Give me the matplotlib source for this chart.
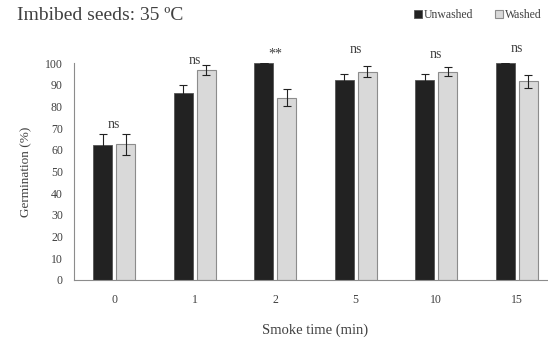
import matplotlib
matplotlib.use("Agg")
import matplotlib.pyplot as plt
import numpy as np

plt.rcParams['font.family'] = ['Liberation Serif', 'DejaVu Serif']

categories = ['0', '1', '2', '5', '10', '15']
unwashed = [62, 86, 100, 92, 92, 100]
unwashed_err = [5.5, 4, 0, 3, 3, 0]
washed = [62.5, 97, 84, 96, 96, 91.5]
washed_err = [5, 2.3, 4, 2.5, 2, 3]
sig_labels = ['ns', 'ns', '**', 'ns', 'ns', 'ns']
sig_y = [71.5, 101, 104, 106, 104, 106.5]
yticks = [0, 10, 20, 30, 40, 50, 60, 70, 80, 90, 100]

txt = '#404040'
fig = plt.figure(figsize=(5.48, 3.41), dpi=100)
ax = fig.add_axes([74/548, 61/341, 483/548, 217/341])

x = np.arange(len(categories))
w = 0.24
off = 0.142
ax.bar(x - off, unwashed, w, color='#222222', edgecolor='#555555', linewidth=0.6,
       yerr=unwashed_err, error_kw=dict(ecolor='#222222', elinewidth=0.8, capsize=3, capthick=0.8),
       label='Unwashed', zorder=2)
ax.bar(x + off, washed, w, color='#d9d9d9', edgecolor='#8c8c8c', linewidth=0.8,
       yerr=washed_err, error_kw=dict(ecolor='#222222', elinewidth=0.8, capsize=3, capthick=0.8),
       label='Washed', zorder=2)

for xi, lab, yy in zip(x, sig_labels, sig_y):
    ax.text(xi, yy, lab, ha='center', va='center', fontsize=10, color=txt, clip_on=False)

ax.set_xlim(-0.5, len(categories) - 0.5)
ax.set_ylim(0, 100)
ax.set_yticks(yticks)
ax.set_xticks(x)
ax.set_xticklabels(categories)
ax.tick_params(axis='both', length=0, labelsize=8.5, colors=txt)
ax.tick_params(axis='x', pad=10)
ax.tick_params(axis='y', pad=8)
for s in ['top', 'right']:
    ax.spines[s].set_visible(False)
for s in ['left', 'bottom']:
    ax.spines[s].set_color('#8c8c8c')
    ax.spines[s].set_linewidth(0.8)

ax.set_xlabel('Smoke time (min)', fontsize=10.5, color=txt, labelpad=13)
ax.set_ylabel('Germination (%)', fontsize=9.5, color=txt, labelpad=9)

fig.text(17/548, 1 - 16/341, 'Imbibed seeds: 35 ºC', fontsize=14, color=txt,
         ha='left', va='center')
fig.legend(loc='center right', bbox_to_anchor=(1.0, 1 - 15/341), ncol=2, frameon=False,
           fontsize=8.5, handlelength=0.7, handleheight=0.7, handletextpad=0.2,
           columnspacing=1.8, borderaxespad=0.1, labelcolor=txt)

fig.savefig('out.png', dpi=100)
